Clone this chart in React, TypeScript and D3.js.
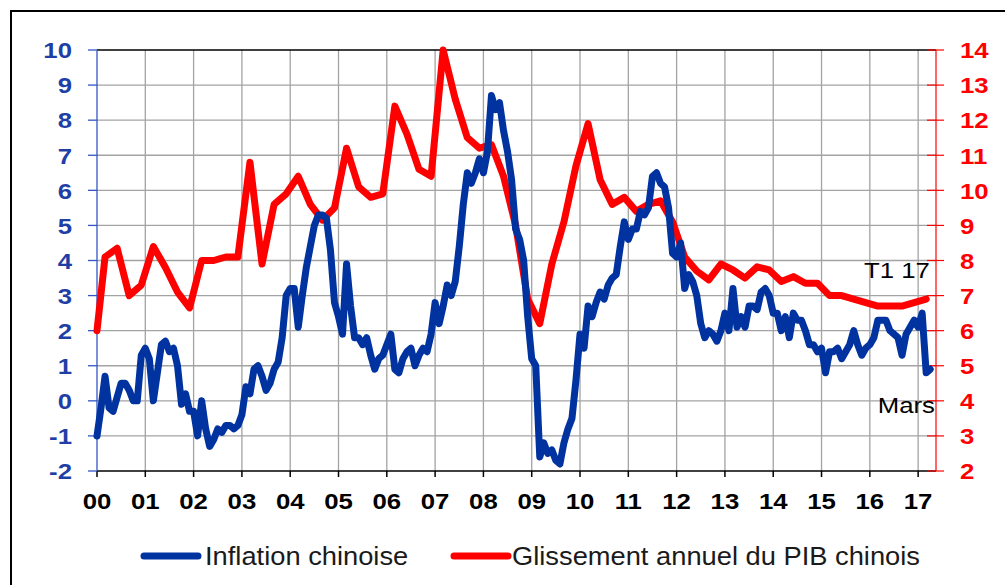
import React from "react";
import * as d3 from "d3";

// CPI yoy, monthly, from Dec 1999 to Mar 2017
const cpi = [
  -1.0,
  -0.2, 0.7, -0.2, -0.3, 0.1, 0.5, 0.5, 0.3, 0.0, 0.0, 1.3, 1.5,
  1.2, 0.0, 0.8, 1.6, 1.7, 1.4, 1.5, 1.0, -0.1, 0.2, -0.3, -0.3,
  -1.0, 0.0, -0.8, -1.3, -1.1, -0.8, -0.9, -0.7, -0.7, -0.8, -0.7, -0.4,
  0.4, 0.2, 0.9, 1.0, 0.7, 0.3, 0.5, 0.9, 1.1, 1.8, 3.0, 3.2,
  3.2, 2.1, 3.0, 3.8, 4.4, 5.0, 5.3, 5.3, 5.2, 4.3, 2.8, 2.4,
  1.9, 3.9, 2.7, 1.8, 1.8, 1.6, 1.8, 1.3, 0.9, 1.2, 1.3, 1.6,
  1.9, 0.9, 0.8, 1.2, 1.4, 1.5, 1.0, 1.3, 1.5, 1.4, 1.9, 2.8,
  2.2, 2.7, 3.3, 3.0, 3.4, 4.4, 5.6, 6.5, 6.2, 6.5, 6.9, 6.5,
  7.1, 8.7, 8.3, 8.5, 7.7, 7.1, 6.3, 4.9, 4.6, 4.0, 2.4, 1.2,
  1.0, -1.6, -1.2, -1.5, -1.4, -1.7, -1.8, -1.2, -0.8, -0.5, 0.6, 1.9,
  1.5, 2.7, 2.4, 2.8, 3.1, 2.9, 3.3, 3.5, 3.6, 4.4, 5.1, 4.6,
  4.9, 4.9, 5.4, 5.3, 5.5, 6.4, 6.5, 6.2, 6.1, 5.5, 4.2, 4.1,
  4.5, 3.2, 3.6, 3.4, 3.0, 2.2, 1.8, 2.0, 1.9, 1.7, 2.0, 2.5,
  2.0, 3.2, 2.1, 2.4, 2.1, 2.7, 2.7, 2.6, 3.1, 3.2, 3.0, 2.5,
  2.5, 2.0, 2.4, 1.8, 2.5, 2.3, 2.3, 2.0, 1.6, 1.6, 1.4, 1.5,
  0.8, 1.4, 1.4, 1.5, 1.2, 1.4, 1.6, 2.0, 1.6, 1.3, 1.5, 1.6,
  1.8, 2.3, 2.3, 2.3, 2.0, 1.9, 1.8, 1.3, 1.9, 2.1, 2.3, 2.1,
  2.5, 0.8, 0.9,
];

// GDP yoy: first value at Dec 1999, then quarterly from Q1 2000 to Q1 2017
const gdp = [
  6.0,
  8.1, 8.35, 7.0, 7.3,
  8.4, 7.8, 7.1, 6.65,
  8.0, 8.0, 8.1, 8.1,
  10.8, 7.9, 9.6, 9.9,
  10.4, 9.6, 9.15, 9.5,
  11.2, 10.1, 9.8, 9.9,
  12.4, 11.6, 10.6, 10.4,
  14.0, 12.6, 11.5, 11.2,
  11.3, 10.4, 9.0, 6.9,
  6.2, 7.9, 9.1, 10.7,
  11.9, 10.3, 9.6, 9.8,
  9.4, 9.6, 9.7, 9.1,
  8.1, 7.7, 7.45, 7.9,
  7.73, 7.5, 7.82, 7.73,
  7.4, 7.54, 7.35, 7.35,
  7.0, 7.0, 6.9, 6.8,
  6.7, 6.7, 6.7, 6.8,
  6.9,
];

const yearLabels = ["00", "01", "02", "03", "04", "05", "06", "07", "08", "09",
  "10", "11", "12", "13", "14", "15", "16", "17"];
const leftTicks = [-2, -1, 0, 1, 2, 3, 4, 5, 6, 7, 8, 9, 10];
const rightTicks = [2, 3, 4, 5, 6, 7, 8, 9, 10, 11, 12, 13, 14];

const BLUE = "#0033a0";
const RED = "#ff0000";
const FONT = "'Liberation Sans', Arial, sans-serif";

const left = 97, right = 936, top = 50, bottom = 471;

const App = () => {
  const x = d3.scaleLinear().domain([0, 17.37]).range([left, right]);
  const yL = d3.scaleLinear().domain([-2, 10]).range([bottom, top]);
  const yR = d3.scaleLinear().domain([2, 14]).range([bottom, top]);

  const cpiLine = d3.line<number>()
    .x((d, i) => x(i / 12))
    .y(d => yL(d));

  const gdpLine = d3.line<number>()
    .x((d, i) => x(i === 0 ? 0 : (3 * (i - 1) + 2) / 12))
    .y(d => yR(d));

  const sx = 1.12;

  return (
    <svg width={1005} height={585} style={{ position: "absolute", left: 0, top: 0, background: "#fff" }}
      fontFamily={FONT}>
      <rect x={11} y={11} width={1010} height={600} fill="#fff" stroke="#000" strokeWidth={2} />

      {/* grid */}
      {leftTicks.slice(1, -1).map(t => (
        <line key={"h" + t} x1={left} x2={right} y1={yL(t)} y2={yL(t)} stroke="#a3a3a3" strokeWidth={1.3} />
      ))}
      {yearLabels.slice(1).map((l, i) => (
        <line key={"v" + l} x1={x(i + 1)} x2={x(i + 1)} y1={top} y2={bottom} stroke="#a3a3a3" strokeWidth={1.3} />
      ))}
      <line x1={left} x2={right} y1={top} y2={top} stroke="#000" strokeWidth={1.5} />
      <line x1={left} x2={right} y1={bottom} y2={bottom} stroke="#000" strokeWidth={1.5} />

      {/* x ticks + labels */}
      {yearLabels.map((l, i) => (
        <g key={"x" + l}>
          <line x1={x(i)} x2={x(i)} y1={bottom} y2={bottom + 6} stroke="#000" strokeWidth={1.5} />
          <text transform={`translate(${x(i)},509) scale(${sx},1)`} textAnchor="middle"
            fontSize={23} fontWeight="bold" fill="#000">{l}</text>
        </g>
      ))}

      {/* left axis */}
      <line x1={left} x2={left} y1={top} y2={bottom} stroke="#3355c4" strokeWidth={1.3} />
      {leftTicks.map(t => (
        <g key={"l" + t}>
          <line x1={left - 9} x2={left} y1={yL(t)} y2={yL(t)} stroke="#3355c4" strokeWidth={1.3} />
          <text transform={`translate(72,${yL(t) + 8.3}) scale(${sx},1)`} textAnchor="end"
            fontSize={23} fontWeight="bold" fill="#1f3fa6">{t}</text>
        </g>
      ))}

      {/* right axis */}
      <line x1={right} x2={right} y1={top} y2={bottom} stroke={RED} strokeWidth={1.2} />
      {rightTicks.map(t => (
        <g key={"r" + t}>
          <line x1={right - 9} x2={right + 8} y1={yR(t)} y2={yR(t)} stroke={RED} strokeWidth={1.2} />
          <text transform={`translate(960,${yR(t) + 8.3}) scale(${sx},1)`} textAnchor="start"
            fontSize={23} fontWeight="bold" fill={RED}>{t}</text>
        </g>
      ))}

      {/* series */}
      <path d={gdpLine(gdp) || ""} fill="none" stroke={RED} strokeWidth={7} strokeLinejoin="round" strokeLinecap="round" />
      <path d={cpiLine(cpi) || ""} fill="none" stroke={BLUE} strokeWidth={7} strokeLinejoin="round" strokeLinecap="round" />

      {/* annotations */}
      <text transform={`translate(864,278) scale(${sx},1)`} fontSize={23} fill="#000">T1 17</text>
      <text transform={`translate(935,413) scale(${sx},1)`} textAnchor="end" fontSize={23} fill="#000">Mars</text>

      {/* legend */}
      <line x1={144} x2={198} y1={556} y2={556} stroke={BLUE} strokeWidth={7} strokeLinecap="round" />
      <text transform="translate(205,565) scale(1.05,1)" fontSize={26} fill="#1a1a1a">Inflation chinoise</text>
      <line x1={454} x2={508} y1={556} y2={556} stroke={RED} strokeWidth={7} strokeLinecap="round" />
      <text transform="translate(512,565) scale(1.05,1)" fontSize={26} fill="#1a1a1a">Glissement annuel du PIB chinois</text>
    </svg>
  );
};

export default App;
